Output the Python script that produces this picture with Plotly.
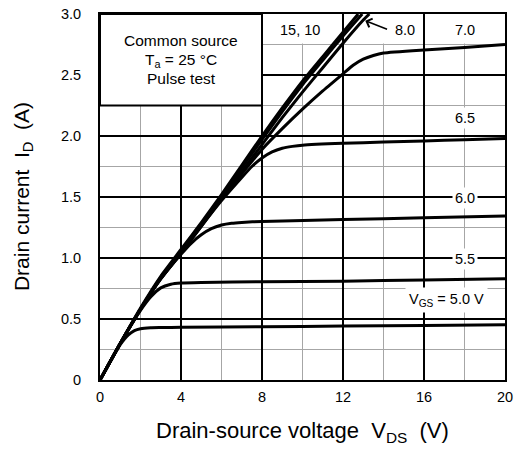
import plotly.graph_objects as go

# ---- data ----
vgs_labels = ["15", "10", "8.0", "7.0", "6.5", "6.0", "5.5", "5.0"]

vds_15 = [0, 1, 2, 3, 4, 5, 6, 7, 8, 9, 10, 11, 12, 12.75]
id_15 = [0, 0.30, 0.59, 0.85, 1.07, 1.29, 1.52, 1.76, 2.00, 2.23, 2.45, 2.65, 2.85, 3.0]

vds_10 = [0, 1, 2, 3, 4, 5, 6, 7, 8, 9, 10, 11, 12, 12.95]
id_10 = [0, 0.30, 0.58, 0.84, 1.06, 1.28, 1.50, 1.74, 1.97, 2.20, 2.42, 2.62, 2.82, 3.0]

vds_8 = [0, 1, 2, 3, 4, 5, 6, 7, 8, 9, 10, 11, 12, 13, 13.3]
id_8 = [0, 0.30, 0.58, 0.84, 1.05, 1.27, 1.49, 1.71, 1.93, 2.15, 2.36, 2.56, 2.76, 2.95, 3.0]

vds_7 = [0, 1, 2, 3, 4, 5, 6, 7, 8, 9, 10, 11, 12, 12.5, 13, 13.5, 14, 16, 18, 20]
id_7 = [0, 0.30, 0.58, 0.83, 1.04, 1.26, 1.48, 1.69, 1.89, 2.06, 2.22, 2.37, 2.51, 2.58,
        2.63, 2.66, 2.68, 2.705, 2.725, 2.75]

vds_65 = [0, 1, 2, 3, 4, 5, 6, 7, 7.5, 8, 8.5, 9, 9.5, 10, 12, 14, 16, 18, 20]
id_65 = [0, 0.30, 0.58, 0.83, 1.04, 1.26, 1.47, 1.66, 1.75, 1.82, 1.87, 1.90, 1.915,
         1.925, 1.94, 1.95, 1.96, 1.97, 1.98]

vds_6 = [0, 1, 2, 3, 4, 4.5, 5, 5.5, 6, 6.5, 7, 8, 12, 16, 20]
id_6 = [0, 0.30, 0.58, 0.83, 1.03, 1.12, 1.19, 1.24, 1.27, 1.285, 1.292, 1.30, 1.315,
        1.33, 1.345]

vds_55 = [0, 1, 2, 2.5, 3, 3.5, 4, 5, 8, 12, 16, 20]
id_55 = [0, 0.30, 0.57, 0.68, 0.755, 0.785, 0.795, 0.80, 0.805, 0.81, 0.82, 0.83]

vds_5 = [0, 0.5, 1, 1.4, 1.7, 2, 2.5, 3, 4, 8, 12, 16, 20]
id_5 = [0, 0.15, 0.29, 0.37, 0.405, 0.42, 0.428, 0.43, 0.432, 0.437, 0.442, 0.447, 0.452]

x_tickvals = [0, 4, 8, 12, 16, 20]
x_ticktext = ["0", "4", "8", "12", "16", "20"]
y_tickvals = [0, 0.5, 1.0, 1.5, 2.0, 2.5, 3.0]
y_ticktext = ["0", "0.5", "1.0", "1.5", "2.0", "2.5", "3.0"]

series = [(vds_15, id_15), (vds_10, id_10), (vds_8, id_8), (vds_7, id_7),
          (vds_65, id_65), (vds_6, id_6), (vds_55, id_55), (vds_5, id_5)]

FONT = "Liberation Sans, Arial, sans-serif"
GREY = "#a6a6a6"

fig = go.Figure()
for name, (xs, ys) in zip(vgs_labels, series):
    fig.add_trace(go.Scatter(x=xs, y=ys, mode="lines", name=name,
                             line=dict(color="black", width=3, shape="spline", smoothing=0.5),
                             showlegend=False, hoverinfo="skip"))

fig.update_layout(
    width=518, height=450,
    margin=dict(l=100, r=13, t=14, b=70, autoexpand=False),
    paper_bgcolor="white", plot_bgcolor="white",
    font=dict(family=FONT, size=14.5, color="black"),
    xaxis=dict(range=[0, 20], tickvals=x_tickvals, ticktext=x_ticktext,
               showgrid=True, gridcolor="black", gridwidth=2,
               minor=dict(dtick=2, showgrid=True, gridcolor=GREY, gridwidth=1),
               zeroline=False, showline=True, linecolor="black", linewidth=2, mirror=True,
               ticks="", ticklabelstandoff=3, fixedrange=True, automargin=False),
    yaxis=dict(range=[0, 3.0], tickvals=y_tickvals, ticktext=y_ticktext,
               showgrid=True, gridcolor="black", gridwidth=2,
               minor=dict(dtick=0.25, showgrid=True, gridcolor=GREY, gridwidth=1),
               zeroline=False, showline=True, linecolor="black", linewidth=2, mirror=True,
               ticks="", ticklabelstandoff=14, fixedrange=True, automargin=False),
)

# white boxes hiding the grid behind the labels
fig.add_shape(type="rect", x0=0, x1=8, y0=2.25, y1=3.0, xref="x", yref="y",
              fillcolor="white", line=dict(color="black", width=2), layer="between")
for x0, x1 in [(8, 12), (12, 16), (16, 20)]:
    fig.add_shape(type="rect", x0=x0 + 0.06, x1=x1 - 0.06, y0=2.758, y1=3.0,
                  xref="x", yref="y", fillcolor="white", line=dict(width=0), layer="between")

# text box
fig.add_annotation(x=4, y=2.78, xref="x", yref="y", text="Common source",
                   showarrow=False, font=dict(size=15.5))
fig.add_annotation(x=4, y=2.615, xref="x", yref="y", text="T<sub>a</sub> = 25 °C",
                   showarrow=False, font=dict(size=15.5))
fig.add_annotation(x=4, y=2.47, xref="x", yref="y", text="Pulse test",
                   showarrow=False, font=dict(size=15.5))

# curve labels
fig.add_annotation(x=9.87, y=2.865, text="15, 10", showarrow=False)
fig.add_annotation(x=15.05, y=2.87, text="8.0", showarrow=False)
fig.add_annotation(x=13.1, y=2.945, ax=14.25, ay=2.87, axref="x", ayref="y",
                   text="", showarrow=True, arrowhead=4, arrowsize=1.2, arrowwidth=1.5,
                   arrowcolor="black")
fig.add_annotation(x=18, y=2.87, text="7.0", showarrow=False)
fig.add_annotation(x=18, y=2.145, text="6.5", showarrow=False, bgcolor="white", borderpad=2)
fig.add_annotation(x=18, y=1.49, text="6.0", showarrow=False, bgcolor="white", borderpad=2)
fig.add_annotation(x=18, y=0.99, text="5.5", showarrow=False, bgcolor="white", borderpad=2)
fig.add_annotation(x=17.1, y=0.655, text="V<sub>GS</sub> = 5.0 V", showarrow=False,
                   bgcolor="white", borderpad=3)

# axis titles
fig.add_annotation(x=10, y=-0.142, xref="x", yref="paper", yanchor="middle",
                   text="Drain-source voltage  V<sub>DS</sub>  (V)", showarrow=False,
                   font=dict(size=22))
fig.add_annotation(x=-0.19, y=0.5, xref="paper", yref="paper", xanchor="center",
                   text="Drain current  I<sub>D</sub>  (A)", showarrow=False,
                   textangle=-90, font=dict(size=21))

fig.write_html(
    "out.html",
    config={"displayModeBar": False, "responsive": False},
    post_script=("document.documentElement.style.overflow='hidden';"
                 "document.body.style.overflow='hidden';"
                 "document.body.style.margin='0';document.body.style.padding='0';"),
)
